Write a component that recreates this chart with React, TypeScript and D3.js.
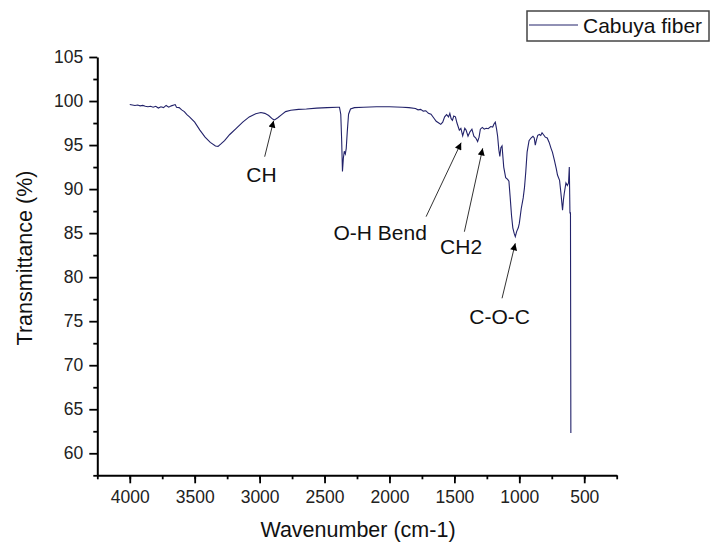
import React, { useRef, useEffect } from "react";
import * as d3 from "d3";

// wavenumber (cm-1) and transmittance (%)
const wavenumbers = [
  4000, 3980, 3960, 3940, 3920, 3900, 3880, 3860, 3840, 3820, 3800, 3780, 3760,
  3740, 3720, 3700, 3680, 3660, 3650, 3640, 3620, 3600, 3580, 3560, 3540, 3500,
  3460, 3420, 3380, 3340, 3320, 3300, 3270, 3230, 3180, 3130, 3080, 3030, 2990,
  2960, 2930, 2900, 2885, 2860, 2830, 2800, 2760, 2700, 2640, 2560, 2480, 2400,
  2385, 2375, 2368, 2362, 2355, 2348, 2340, 2333, 2325, 2315, 2300, 2270, 2200,
  2100, 2000, 1900, 1850, 1800, 1780, 1760, 1740, 1720, 1700, 1680, 1660, 1640,
  1620, 1605, 1590, 1575, 1560, 1545, 1535, 1525, 1515, 1505, 1492, 1480, 1462,
  1450, 1436, 1420, 1410, 1395, 1380, 1365, 1350, 1335, 1321, 1310, 1300, 1285,
  1270, 1255, 1240, 1220, 1205, 1195, 1185, 1175, 1167, 1158, 1150, 1142, 1133,
  1120, 1105, 1090, 1080, 1070, 1060, 1050, 1040, 1031, 1020, 1008, 1000, 985,
  970, 960, 950, 940, 925, 910, 895, 885, 877, 868, 858, 845, 835, 825, 815, 800,
  785, 770, 755, 745, 730, 715, 706, 690, 680, 667, 660, 654, 641, 630, 621, 615,
  610, 606, 603,
];
const transmittance = [
  99.6, 99.55, 99.5, 99.55, 99.45, 99.5, 99.4, 99.35, 99.4, 99.3, 99.4, 99.2,
  99.35, 99.25, 99.5, 99.3, 99.45, 99.55, 99.6, 99.3, 99.25, 99.0, 98.8, 98.45,
  98.2, 97.6, 96.7, 95.9, 95.3, 94.9, 94.85, 95.1, 95.5, 96.2, 96.9, 97.6, 98.2,
  98.55, 98.7, 98.6, 98.35, 97.95, 97.85, 98.1, 98.45, 98.8, 98.95, 99.05, 99.1,
  99.2, 99.25, 99.3, 99.3, 98.5, 95.5, 92.0, 93.5, 94.3, 94.0, 94.6, 96.5, 98.5,
  99.1, 99.25, 99.3, 99.35, 99.35, 99.3, 99.25, 99.15, 99.0, 99.05, 98.85, 98.9,
  98.6, 98.5, 98.1, 97.7, 97.5, 97.35, 97.6, 98.2, 98.45, 98.2, 98.6, 98.0, 97.8,
  98.3, 98.2, 97.5, 96.7, 96.9, 96.05, 96.9, 96.7, 96.0, 96.5, 96.8, 96.0, 95.8,
  95.4, 95.9, 96.8, 97.0, 96.8, 96.9, 96.85, 97.1, 97.05, 97.4, 97.6, 96.8, 96.0,
  94.5, 93.7, 94.7, 94.9, 92.5, 91.3, 91.1, 90.9, 89.0, 87.0, 85.6, 85.0, 84.6,
  85.2, 85.6, 86.1, 87.8, 89.0, 90.2, 92.0, 94.2, 95.5, 95.8, 96.0, 95.8, 95.0,
  95.6, 96.1, 96.2, 96.1, 96.4, 96.2, 95.9, 95.8, 95.3, 94.6, 94.2, 93.3, 92.3,
  91.6, 91.0, 89.6, 87.6, 88.8, 89.5, 90.7, 90.4, 90.7, 92.5, 87.3, 87.3, 62.3,
];

const xTicks = [4000, 3500, 3000, 2500, 2000, 1500, 1000, 500];
const yTicks = [60, 65, 70, 75, 80, 85, 90, 95, 100, 105];

// annotation labels: text spot, arrow tail, arrow head (data space)
const labels = ["CH", "O-H Bend", "CH2", "C-O-C"];
const labelAt = [
  [3102, 90.84],
  [2431, 84.22],
  [1610, 82.63],
  [1385, 74.68],
];
const arrowFrom = [
  [2961, 93.68],
  [1718, 86.87],
  [1423, 85.16],
  [1133, 77.6],
];
const arrowTo = [
  [2892, 97.77],
  [1448, 95.27],
  [1282, 94.63],
  [1031, 83.84],
];

const seriesName = "Cabuya fiber";

function App() {
  const svgRef = useRef<SVGSVGElement>(null);

  useEffect(() => {
    const w = 711;
    const h = 542;
    const font = "'Liberation Sans', Arial, sans-serif";
    const lineColor = "#22226a";

    const svg = d3.select(svgRef.current).attr("width", w).attr("height", h);
    svg.selectAll("*").remove();

    const x = d3.scaleLinear().domain([4250, 250]).range([97.3, 616.7]);
    const y = d3.scaleLinear().domain([57.5, 105]).range([475.3, 57]);

    svg
      .append("defs")
      .append("marker")
      .attr("id", "head")
      .attr("viewBox", "0 0 10 10")
      .attr("refX", 10)
      .attr("refY", 5)
      .attr("markerWidth", 10)
      .attr("markerHeight", 7)
      .attr("markerUnits", "userSpaceOnUse")
      .attr("orient", "auto")
      .append("path")
      .attr("d", "M0,0 L10,5 L0,10 Z")
      .attr("fill", "#000");

    // minor ticks
    const xMinor = d3.range(4250, 249, -250);
    const yMinor = d3.range(57.5, 105, 5);
    svg
      .append("g")
      .attr("transform", `translate(0, ${y(57.5)})`)
      .call(d3.axisBottom(x).tickValues(xMinor).tickSize(4).tickFormat(() => ""))
      .call((g) => g.select(".domain").remove())
      .call((g) => g.selectAll("line").attr("stroke-width", 1.8));
    svg
      .append("g")
      .attr("transform", `translate(${x(4250)}, 0)`)
      .call(d3.axisLeft(y).tickValues(yMinor).tickSize(4).tickFormat(() => ""))
      .call((g) => g.select(".domain").remove())
      .call((g) => g.selectAll("line").attr("stroke-width", 1.8));

    // major axes
    const xAxis = svg
      .append("g")
      .attr("transform", `translate(0, ${y(57.5)})`)
      .call(
        d3
          .axisBottom(x)
          .tickValues(xTicks)
          .tickSize(8)
          .tickSizeOuter(0)
          .tickPadding(7)
          .tickFormat(d3.format("d"))
      );
    const yAxis = svg
      .append("g")
      .attr("transform", `translate(${x(4250)}, 0)`)
      .call(
        d3
          .axisLeft(y)
          .tickValues(yTicks)
          .tickSize(8)
          .tickSizeOuter(0)
          .tickPadding(6)
          .tickFormat(d3.format("d"))
      );
    [xAxis, yAxis].forEach((g) => {
      g.select(".domain").attr("stroke-width", 2);
      g.selectAll("line").attr("stroke-width", 1.8);
      g.selectAll("text")
        .attr("font-family", font)
        .attr("font-size", 17.5)
        .attr("fill", "#222");
    });

    // spectrum line
    const pts: [number, number][] = wavenumbers.map((d, i) => [d, transmittance[i]]);
    svg
      .append("path")
      .datum(pts)
      .attr("fill", "none")
      .attr("stroke", lineColor)
      .attr("stroke-width", 1.1)
      .attr(
        "d",
        d3
          .line<[number, number]>()
          .x((d) => x(d[0]))
          .y((d) => y(d[1]))
      );

    // annotations
    labels.forEach((t, i) => {
      svg
        .append("line")
        .attr("x1", x(arrowFrom[i][0]))
        .attr("y1", y(arrowFrom[i][1]))
        .attr("x2", x(arrowTo[i][0]))
        .attr("y2", y(arrowTo[i][1]))
        .attr("stroke", "#333")
        .attr("stroke-width", 1)
        .attr("marker-end", "url(#head)");
      svg
        .append("text")
        .attr("x", x(labelAt[i][0]))
        .attr("y", y(labelAt[i][1]))
        .attr("font-family", font)
        .attr("font-size", 21)
        .attr("fill", "#111")
        .text(t);
    });

    // axis titles
    svg
      .append("text")
      .attr("x", 358)
      .attr("y", 537)
      .attr("text-anchor", "middle")
      .attr("font-family", font)
      .attr("font-size", 21.5)
      .attr("fill", "#111")
      .text("Wavenumber (cm-1)");
    svg
      .append("text")
      .attr("transform", "translate(31.5, 258) rotate(-90)")
      .attr("text-anchor", "middle")
      .attr("font-family", font)
      .attr("font-size", 21.5)
      .attr("fill", "#111")
      .text("Transmittance (%)");

    // legend
    const legend = svg.append("g");
    legend
      .append("rect")
      .attr("x", 527)
      .attr("y", 11)
      .attr("width", 182)
      .attr("height", 30)
      .attr("fill", "#fff")
      .attr("stroke", "#444")
      .attr("stroke-width", 1.5);
    legend
      .append("line")
      .attr("x1", 529)
      .attr("x2", 578)
      .attr("y1", 25)
      .attr("y2", 25)
      .attr("stroke", lineColor)
      .attr("stroke-width", 1);
    legend
      .append("text")
      .attr("x", 583)
      .attr("y", 32.5)
      .attr("font-family", font)
      .attr("font-size", 21)
      .attr("fill", "#111")
      .text(seriesName);
  }, []);

  return (
    <svg
      ref={svgRef}
      style={{ position: "absolute", left: 0, top: 0, background: "#fff" }}
    ></svg>
  );
}

export default App;
